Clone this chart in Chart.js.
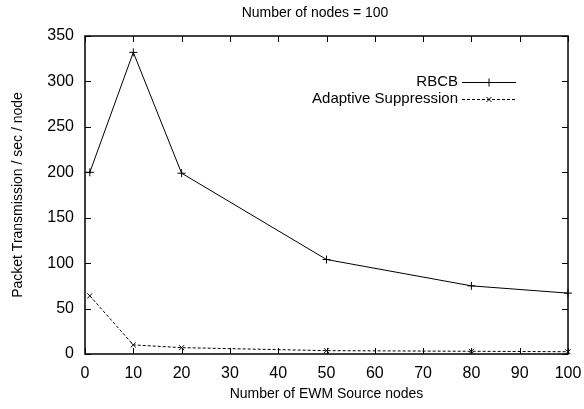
<!DOCTYPE html>
<html>
<head>
<meta charset="utf-8">
<script src="https://cdn.jsdelivr.net/npm/chart.js@4/dist/chart.umd.min.js"></script>
<style>
  html, body { margin: 0; padding: 0; background: #fff; }
  #wrap { width: 584px; height: 409px; }
</style>
</head>
<body>
<div id="wrap"><canvas id="nodesChart"></canvas></div>
<script>
// EWM source node counts and per-node packet rates
const sourceNodes = [1, 10, 20, 50, 80, 100];
const rbcbRate = [200, 332, 199, 104, 75, 67];
const adaptiveRate = [64, 10, 7, 3.7, 3, 2.5];
const seriesNames = ['RBCB', 'Adaptive Suppression'];
const plotTitle = 'Number of nodes = 100';

const FONT = 'Liberation Sans, Arial, Helvetica, sans-serif';
const TICK_LEN = 6;

// gnuplot-style frame: border box with inward ticks on all four sides
const framePlugin = {
  id: 'frame',
  afterDatasetsDraw(chart) {
    const { ctx, chartArea: a, scales: { x, y } } = chart;
    ctx.save();
    ctx.strokeStyle = '#000';
    ctx.lineWidth = 1;
    ctx.beginPath();
    x.ticks.forEach(t => {
      const px = Math.round(x.getPixelForValue(t.value)) + 0.5;
      ctx.moveTo(px, a.bottom); ctx.lineTo(px, a.bottom - TICK_LEN);
      ctx.moveTo(px, a.top); ctx.lineTo(px, a.top + TICK_LEN);
    });
    y.ticks.forEach(t => {
      const py = Math.round(y.getPixelForValue(t.value)) + 0.5;
      ctx.moveTo(a.left, py); ctx.lineTo(a.left + TICK_LEN, py);
      ctx.moveTo(a.right, py); ctx.lineTo(a.right - TICK_LEN, py);
    });
    ctx.stroke();
    ctx.lineWidth = 1.5;
    ctx.strokeRect(a.left, a.top, a.right - a.left, a.bottom - a.top);

    ctx.fillStyle = '#000';
    ctx.textBaseline = 'middle';

    // title sits a little right of the canvas centre, as gnuplot places it
    ctx.font = '14px ' + FONT;
    ctx.textAlign = 'center';
    ctx.fillText(plotTitle, 315, 13);

    // key in the upper right: label, then a line sample with its marker
    ctx.font = '15px ' + FONT;
    ctx.textAlign = 'right';
    chart.data.datasets.forEach((ds, i) => {
      const ky = 82 + i * 17;
      ctx.fillText(ds.label, 458, ky);
      ctx.lineWidth = 1;
      ctx.setLineDash(ds.borderDash || []);
      ctx.beginPath();
      ctx.moveTo(462, ky + 0.5); ctx.lineTo(516, ky + 0.5);
      ctx.stroke();
      ctx.setLineDash([]);
      Chart.helpers.drawPoint(ctx, {
        pointStyle: ds.pointStyle, radius: ds.pointRadius, borderWidth: 1
      }, 489, ky + 0.5);
    });
    ctx.restore();
  }
};

new Chart(document.getElementById('nodesChart'), {
  type: 'line',
  data: {
    datasets: [
      {
        label: seriesNames[0],
        data: sourceNodes.map((n, i) => ({ x: n, y: rbcbRate[i] })),
        borderColor: '#000',
        borderWidth: 1,
        pointStyle: 'cross',
        pointRadius: 4,
        pointBorderColor: '#000',
        pointBorderWidth: 1,
        tension: 0,
        clip: 8
      },
      {
        label: seriesNames[1],
        data: sourceNodes.map((n, i) => ({ x: n, y: adaptiveRate[i] })),
        borderColor: '#000',
        borderWidth: 1,
        borderDash: [3, 2],
        pointStyle: 'crossRot',
        pointRadius: 3.5,
        pointBorderColor: '#000',
        pointBorderWidth: 1,
        tension: 0,
        clip: 8
      }
    ]
  },
  options: {
    responsive: true,
    maintainAspectRatio: false,
    animation: false,
    layout: { padding: { left: 0, right: 16, top: 36, bottom: 0 } },
    scales: {
      x: {
        type: 'linear',
        min: 0, max: 100,
        afterFit: s => { s.height = 55; s.paddingRight = 0; s.paddingLeft = 0; },
        grid: { display: false, drawTicks: false },
        border: { display: false },
        ticks: { stepSize: 10, padding: 10, color: '#000', font: { family: FONT, size: 16 } },
        title: {
          display: true, text: 'Number of EWM Source nodes', color: '#000',
          font: { family: FONT, size: 14 }, padding: { top: 0, bottom: 6 }
        }
      },
      y: {
        min: 0, max: 350,
        afterFit: s => { s.width = 85; },
        grid: { display: false, drawTicks: false },
        border: { display: false },
        ticks: { stepSize: 50, padding: 11, color: '#000', font: { family: FONT, size: 16 } },
        title: {
          display: true, text: 'Packet Transmission / sec / node', color: '#000',
          font: { family: FONT, size: 14 }, padding: { top: 10, bottom: 0 }
        }
      }
    },
    plugins: {
      legend: { display: false },
      tooltip: { enabled: false },
      title: { display: false }
    }
  },
  plugins: [framePlugin]
});
</script>
</body>
</html>
